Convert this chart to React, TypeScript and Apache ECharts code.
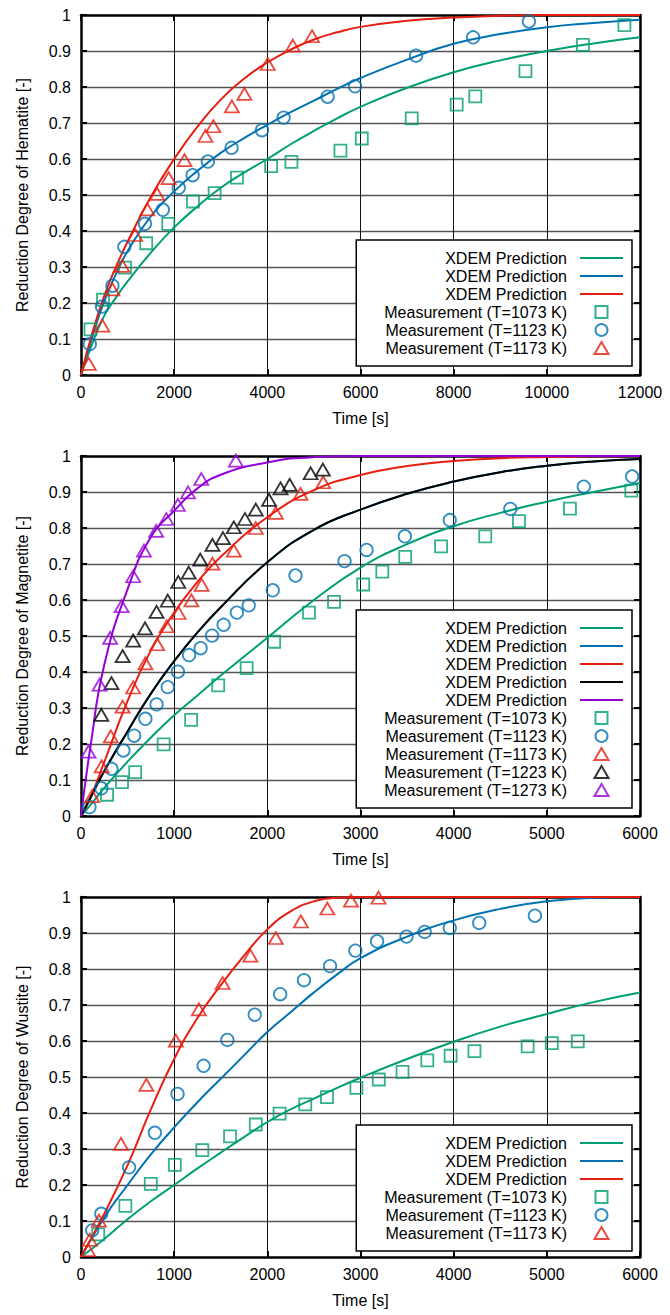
import React, { useEffect, useRef } from "react";
import * as echarts from "echarts";

// ---------------- DATA ----------------
// Panel 1: Hematite
const hemCurveT = [0, 250, 500, 750, 1000, 1500, 2000, 2500, 3000, 3500, 4000, 4500, 5000, 5500, 6000, 7000, 8000, 9000, 10000, 11000, 12000];
const hemPred1073 = [0, 0.09, 0.165, 0.215, 0.26, 0.34, 0.41, 0.468, 0.52, 0.562, 0.6, 0.641, 0.678, 0.713, 0.745, 0.798, 0.841, 0.874, 0.9, 0.921, 0.938];
const hemPred1123 = [0, 0.11, 0.205, 0.28, 0.344, 0.441, 0.51, 0.567, 0.617, 0.658, 0.695, 0.73, 0.762, 0.795, 0.825, 0.876, 0.92, 0.947, 0.966, 0.978, 0.987];
const hemPred1173 = [0, 0.12, 0.22, 0.3, 0.37, 0.495, 0.6, 0.69, 0.765, 0.823, 0.868, 0.904, 0.932, 0.952, 0.967, 0.984, 0.993, 0.998, 1.0, 1.0, 1.0];

const hemMeasT1073 = [203, 472, 944, 1400, 1874, 2404, 2869, 3348, 4081, 4517, 5570, 6028, 7100, 8065, 8464, 9541, 10775, 11666];
const hemMeas1073 = [0.127, 0.209, 0.298, 0.366, 0.42, 0.482, 0.505, 0.548, 0.58, 0.592, 0.623, 0.657, 0.713, 0.751, 0.774, 0.844, 0.917, 0.972];
const hemMeasT1123 = [189, 450, 675, 930, 1373, 1757, 2099, 2397, 2723, 3232, 3885, 4350, 5294, 5882, 7193, 8418, 9615];
const hemMeas1123 = [0.086, 0.19, 0.248, 0.356, 0.42, 0.459, 0.52, 0.555, 0.593, 0.631, 0.68, 0.715, 0.773, 0.802, 0.887, 0.938, 0.982];
const hemMeasT1173 = [167, 458, 675, 886, 1162, 1423, 1634, 1881, 2222, 2672, 2840, 3239, 3508, 4009, 4546, 4960];
const hemMeas1173 = [0.031, 0.137, 0.238, 0.303, 0.389, 0.46, 0.503, 0.547, 0.597, 0.664, 0.691, 0.746, 0.781, 0.864, 0.915, 0.941];

// Panel 2: Magnetite
const magCurveT = [0, 100, 250, 500, 750, 1000, 1250, 1500, 2000, 2500, 3000, 3500, 4000, 4500, 5000, 5500, 6000];
const magPred1073 = [0, 0.03, 0.078, 0.151, 0.218, 0.28, 0.335, 0.39, 0.495, 0.6, 0.69, 0.755, 0.805, 0.842, 0.873, 0.9, 0.925];
const magPred1123 = [0, 0.05, 0.125, 0.235, 0.34, 0.43, 0.51, 0.58, 0.705, 0.795, 0.851, 0.895, 0.929, 0.955, 0.973, 0.985, 0.992];
const magPred1173 = [0, 0.05, 0.15, 0.32, 0.46, 0.565, 0.65, 0.72, 0.83, 0.905, 0.947, 0.972, 0.986, 0.994, 0.997, 0.999, 1.0];
const magPred1223 = [0, 0.05, 0.125, 0.235, 0.34, 0.43, 0.51, 0.58, 0.705, 0.795, 0.851, 0.895, 0.929, 0.955, 0.973, 0.985, 0.992];
const magPred1273 = [0, 0.19, 0.42, 0.63, 0.775, 0.848, 0.91, 0.948, 0.982, 0.997, 1.0, 1.0, 1.0, 1.0, 1.0, 1.0, 1.0];

const magMeasT1073 = [280, 440, 582, 887, 1182, 1473, 1778, 2073, 2447, 2716, 3029, 3234, 3480, 3865, 4339, 4701, 5248, 5907];
const magMeas1073 = [0.059, 0.094, 0.122, 0.199, 0.267, 0.363, 0.411, 0.484, 0.565, 0.595, 0.643, 0.679, 0.72, 0.749, 0.777, 0.819, 0.854, 0.904];
const magMeasT1123 = [91, 218, 327, 455, 571, 691, 811, 931, 1040, 1160, 1284, 1407, 1531, 1673, 1800, 2058, 2302, 2829, 3065, 3476, 3958, 4608, 5397, 5916];
const magMeas1123 = [0.025, 0.077, 0.131, 0.182, 0.223, 0.27, 0.31, 0.358, 0.401, 0.447, 0.466, 0.501, 0.531, 0.565, 0.585, 0.627, 0.668, 0.708, 0.739, 0.777, 0.822, 0.853, 0.915, 0.943];
const magMeasT1173 = [120, 222, 320, 447, 560, 691, 818, 920, 1047, 1185, 1295, 1411, 1640, 1876, 2091, 2356, 2600];
const magMeas1173 = [0.055, 0.138, 0.221, 0.304, 0.357, 0.424, 0.477, 0.527, 0.564, 0.599, 0.642, 0.701, 0.737, 0.8, 0.842, 0.895, 0.927];
const magMeasT1223 = [218, 327, 447, 560, 687, 811, 931, 1044, 1156, 1280, 1411, 1524, 1640, 1760, 1876, 2018, 2142, 2240, 2465, 2596];
const magMeas1223 = [0.281, 0.369, 0.444, 0.487, 0.521, 0.567, 0.598, 0.65, 0.676, 0.712, 0.753, 0.772, 0.802, 0.825, 0.851, 0.878, 0.91, 0.92, 0.952, 0.962];
const magMeasT1273 = [80, 200, 313, 436, 560, 676, 807, 916, 1040, 1149, 1291, 1662];
const magMeas1273 = [0.179, 0.365, 0.495, 0.583, 0.666, 0.737, 0.792, 0.825, 0.864, 0.899, 0.936, 0.987];

// Panel 3: Wustite
const wusCurveT = [0, 250, 500, 750, 1000, 1250, 1500, 1750, 2000, 2250, 2500, 2750, 3000, 3500, 4000, 4500, 5000, 5500, 6000];
const wusPred1073 = [0, 0.05, 0.105, 0.155, 0.2, 0.246, 0.29, 0.333, 0.375, 0.41, 0.44, 0.47, 0.498, 0.55, 0.598, 0.64, 0.675, 0.708, 0.735];
const wusPred1123 = [0, 0.11, 0.2, 0.285, 0.36, 0.43, 0.495, 0.56, 0.625, 0.68, 0.735, 0.785, 0.83, 0.89, 0.935, 0.967, 0.988, 0.998, 1.0];
const wusPred1173 = [0, 0.12, 0.255, 0.41, 0.55, 0.664, 0.755, 0.837, 0.91, 0.96, 0.988, 0.998, 1.0, 1.0, 1.0, 1.0, 1.0, 1.0, 1.0];

const wusMeasT1073 = [185, 476, 749, 1007, 1302, 1600, 1876, 2131, 2407, 2640, 2956, 3196, 3451, 3717, 3967, 4223, 4794, 5053, 5332];
const wusMeas1073 = [0.063, 0.142, 0.203, 0.256, 0.297, 0.335, 0.368, 0.398, 0.424, 0.444, 0.47, 0.493, 0.514, 0.546, 0.559, 0.572, 0.585, 0.594, 0.599];
const wusMeasT1123 = [120, 218, 516, 793, 1036, 1316, 1571, 1865, 2138, 2393, 2673, 2945, 3178, 3494, 3689, 3958, 4274, 4872];
const wusMeas1123 = [0.074, 0.12, 0.249, 0.345, 0.453, 0.531, 0.603, 0.673, 0.73, 0.769, 0.808, 0.851, 0.877, 0.89, 0.903, 0.914, 0.928, 0.948];
const wusMeasT1173 = [76, 95, 193, 429, 702, 1018, 1265, 1520, 1818, 2091, 2360, 2644, 2898, 3193];
const wusMeas1173 = [0.019, 0.048, 0.101, 0.314, 0.478, 0.601, 0.688, 0.761, 0.837, 0.886, 0.932, 0.968, 0.99, 0.998];

const yTitles = ["Reduction Degree of Hematite [-]", "Reduction Degree of Magnetite [-]", "Reduction Degree of Wustite [-]"];
const xTitle = "Time [s]";
const predLabel = "XDEM Prediction";
const measLabel = (k: string) => `Measurement (T=${k} K)`;

// ---------------- STYLE ----------------
const FONT = '"Liberation Sans", Arial, sans-serif';
const FS = 16;
const COLOR: Record<string, string> = {
  "1073": "#009e73",
  "1123": "#0072b2",
  "1173": "#e51e10",
  "1223": "#000000",
  "1273": "#9400d3",
};
const SYMBOL: Record<string, any> = {
  "1073": { symbol: "rect", size: 12, icon: "path://M0,0H10V10H0Z" },
  "1123": { symbol: "circle", size: 12.5, icon: "circle" },
  "1173": { symbol: "triangle", size: [14, 12], icon: "path://M7,0L14,12H0Z" },
  "1223": { symbol: "triangle", size: [14, 12], icon: "path://M7,0L14,12H0Z" },
  "1273": { symbol: "triangle", size: [14, 12], icon: "path://M7,0L14,12H0Z" },
};
const LINE_ICON = "path://M0,0H43V2H0Z";

const zip = (t: number[], v: number[]) => t.map((x, i) => [x, v[i]]);

type Panel = {
  top: number;
  xMax: number;
  xInterval: number;
  yName: string;
  curves: { k: string; t: number[]; v: number[] }[];
  meas: { k: string; t: number[]; v: number[] }[];
  legendTop: number;
};

const panels: Panel[] = [
  {
    top: 15, xMax: 12000, xInterval: 2000, yName: yTitles[0], legendTop: 240,
    curves: [
      { k: "1073", t: hemCurveT, v: hemPred1073 },
      { k: "1123", t: hemCurveT, v: hemPred1123 },
      { k: "1173", t: hemCurveT, v: hemPred1173 },
    ],
    meas: [
      { k: "1073", t: hemMeasT1073, v: hemMeas1073 },
      { k: "1123", t: hemMeasT1123, v: hemMeas1123 },
      { k: "1173", t: hemMeasT1173, v: hemMeas1173 },
    ],
  },
  {
    top: 456, xMax: 6000, xInterval: 1000, yName: yTitles[1], legendTop: 610,
    curves: [
      { k: "1073", t: magCurveT, v: magPred1073 },
      { k: "1123", t: magCurveT, v: magPred1123 },
      { k: "1173", t: magCurveT, v: magPred1173 },
      { k: "1223", t: magCurveT, v: magPred1223 },
      { k: "1273", t: magCurveT, v: magPred1273 },
    ],
    meas: [
      { k: "1073", t: magMeasT1073, v: magMeas1073 },
      { k: "1123", t: magMeasT1123, v: magMeas1123 },
      { k: "1173", t: magMeasT1173, v: magMeas1173 },
      { k: "1223", t: magMeasT1223, v: magMeas1223 },
      { k: "1273", t: magMeasT1273, v: magMeas1273 },
    ],
  },
  {
    top: 897, xMax: 6000, xInterval: 1000, yName: yTitles[2], legendTop: 1125,
    curves: [
      { k: "1073", t: wusCurveT, v: wusPred1073 },
      { k: "1123", t: wusCurveT, v: wusPred1123 },
      { k: "1173", t: wusCurveT, v: wusPred1173 },
    ],
    meas: [
      { k: "1073", t: wusMeasT1073, v: wusMeas1073 },
      { k: "1123", t: wusMeasT1123, v: wusMeas1123 },
      { k: "1173", t: wusMeasT1173, v: wusMeas1173 },
    ],
  },
];

function buildOption() {
  const grid: any[] = [];
  const xAxis: any[] = [];
  const yAxis: any[] = [];
  const series: any[] = [];
  const legend: any[] = [];
  const display: Record<string, string> = {};

  const axisLine = { show: true, onZero: false, lineStyle: { color: "#000", width: 2.5 } };
  const axisTick = { show: true, inside: true, length: 6, lineStyle: { color: "#000", width: 2 } };
  const labelStyle = { color: "#000", fontSize: FS, fontFamily: FONT };

  panels.forEach((p, i) => {
    grid.push({ left: 81, width: 559, top: p.top, height: 360 });
    xAxis.push({
      gridIndex: i, type: "value", min: 0, max: p.xMax, interval: p.xInterval, position: "bottom",
      axisLine, axisTick,
      axisLabel: { ...labelStyle, margin: 9, formatter: (v: number) => String(v) },
      splitLine: { show: true, showMinLine: false, showMaxLine: false, lineStyle: { color: "#111", width: 1 } },
      name: xTitle, nameLocation: "middle", nameGap: 35,
      nameTextStyle: { ...labelStyle },
    });
    xAxis.push({
      gridIndex: i, type: "value", min: 0, max: p.xMax, interval: p.xInterval, position: "top",
      axisLine, axisTick, axisLabel: { show: false }, splitLine: { show: false },
    });
    yAxis.push({
      gridIndex: i, type: "value", min: 0, max: 1, interval: 0.1, position: "left",
      axisLine, axisTick,
      axisLabel: { ...labelStyle, margin: 10, formatter: (v: number) => String(Math.round(v * 10) / 10) },
      splitLine: { show: true, showMinLine: false, showMaxLine: false, lineStyle: { color: "#555", width: 1.3 } },
      name: p.yName, nameLocation: "middle", nameGap: 51,
      nameTextStyle: { ...labelStyle },
    });
    yAxis.push({
      gridIndex: i, type: "value", min: 0, max: 1, interval: 0.1, position: "right",
      axisLine, axisTick, axisLabel: { show: false }, splitLine: { show: false },
    });

    const items: any[] = [];
    p.curves.forEach((c) => {
      const name = `P${i}-pred-${c.k}`;
      display[name] = predLabel;
      items.push({ name, icon: LINE_ICON, itemStyle: { color: COLOR[c.k], borderWidth: 0 } });
      series.push({
        type: "line", name, xAxisIndex: 2 * i, yAxisIndex: 2 * i,
        data: zip(c.t, c.v), smooth: 0.5, symbol: "none", showSymbol: false,
        lineStyle: { color: COLOR[c.k], width: 2 }, itemStyle: { color: COLOR[c.k] },
        z: 2,
      });
    });
    p.meas.forEach((m) => {
      const name = `P${i}-meas-${m.k}`;
      display[name] = measLabel(m.k);
      items.push({ name, icon: SYMBOL[m.k].icon });
      series.push({
        type: "scatter", name, xAxisIndex: 2 * i, yAxisIndex: 2 * i,
        data: zip(m.t, m.v), symbol: SYMBOL[m.k].symbol, symbolSize: SYMBOL[m.k].size,
        clip: false,
        itemStyle: { color: "rgba(0,0,0,0)", borderColor: COLOR[m.k], borderWidth: 1.8 },
        z: 3,
      });
    });

    legend.push({
      data: items,
      orient: "vertical",
      right: 38,
      top: p.legendTop,
      align: "right",
      itemWidth: 43,
      itemHeight: 12,
      itemGap: 2,
      padding: [10, 9, 10, 28],
      backgroundColor: "#fff",
      borderColor: "#000",
      borderWidth: 1.5,
      borderRadius: 0,
      selectedMode: false,
      formatter: (n: string) => display[n],
      textStyle: { color: "#000", fontSize: FS, fontFamily: FONT, lineHeight: 14, padding: [0, 8, 0, 0] },
      z: 10,
    });
  });

  return {
    animation: false,
    backgroundColor: "#fff",
    textStyle: { fontFamily: FONT },
    grid, xAxis, yAxis, series, legend,
  };
}

export default function App() {
  const ref = useRef<HTMLDivElement>(null);
  useEffect(() => {
    document.body.style.margin = "0";
    if (!ref.current) return;
    const chart = echarts.init(ref.current, undefined, { renderer: "svg" });
    chart.setOption(buildOption() as any);
    return () => chart.dispose();
  }, []);
  return <div ref={ref} style={{ width: 670, height: 1315 }} />;
}
